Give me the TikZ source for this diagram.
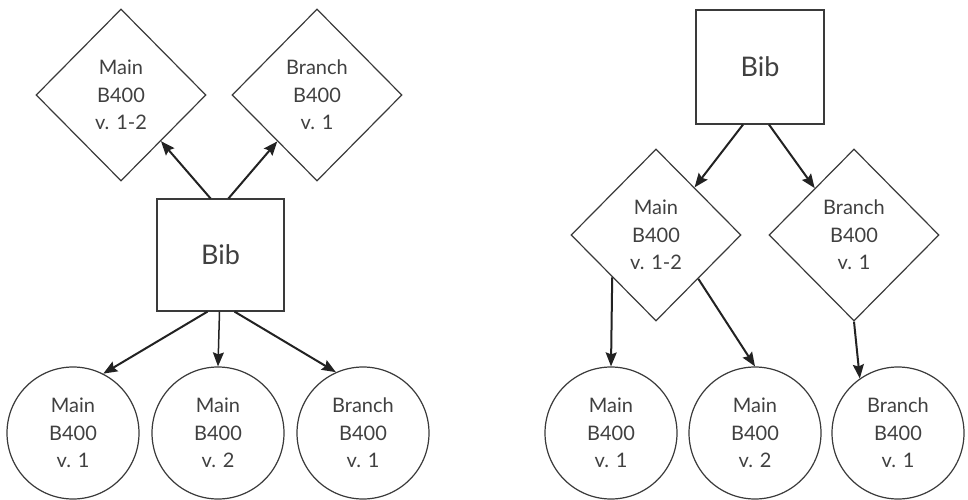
\documentclass[tikz,border=0pt]{standalone}
\usepackage{fontspec}
\setmainfont{Lato}
\usetikzlibrary{shapes.geometric,arrows.meta}
\definecolor{linec}{HTML}{3A3A3A}
\definecolor{arrc}{HTML}{222222}
\definecolor{txtc}{HTML}{404040}
\begin{document}
\begin{tikzpicture}[x=1pt,y=-1pt,
  lbl/.style={align=center,text=txtc,font=\fontsize{20}{27.5}\selectfont,inner sep=0pt},
  dia/.style={lbl,draw=linec,line width=1.2pt,shape=diamond,minimum width=170pt,minimum height=172pt},
  circ/.style={lbl,draw=linec,line width=1.2pt,shape=circle,minimum size=132pt},
  bibbox/.style={draw=linec,line width=1.2pt,rectangle,inner sep=0pt,text=txtc,font=\fontsize{27}{30}\selectfont},
  conn/.style={draw=arrc,line width=2pt,-{Stealth[length=14pt,width=11pt,inset=2pt]}}
]
\useasboundingbox (0,0) rectangle (968,500);
% Left diagram
\node[dia] (ld1) at (121,95) {Main\\B400\\v. 1-2};
\node[dia] (ld2) at (317,95) {Branch\\B400\\v. 1};
\node[bibbox,minimum width=127pt,minimum height=112pt] (lbib) at (220.5,255) {Bib};
\node[circ] (lc1) at (73,433) {Main\\B400\\v. 1};
\node[circ] (lc2) at (218,433) {Main\\B400\\v. 2};
\node[circ] (lc3) at (363,433) {Branch\\B400\\v. 1};
\draw[conn] ([xshift=-10pt]lbib.north) -- (ld1);
\draw[conn] ([xshift=8pt]lbib.north) -- (ld2);
\draw[conn] ([xshift=-13pt]lbib.south) -- (lc1.63);
\draw[conn,line width=1.5pt] ([xshift=-1pt]lbib.south) -- (lc2.north);
\draw[conn] ([xshift=14pt]lbib.south) -- (lc3.114);
% Right diagram
\node[bibbox,minimum width=128pt,minimum height=114pt] (rbib) at (760,67) {Bib};
\node[dia] (rd1) at (656,235) {Main\\B400\\v. 1-2};
\node[dia] (rd2) at (854,235) {Branch\\B400\\v. 1};
\node[circ] (rc1) at (611,433) {Main\\B400\\v. 1};
\node[circ] (rc2) at (755,433) {Main\\B400\\v. 2};
\node[circ] (rc3) at (898,433) {Branch\\B400\\v. 1};
\draw[conn] ([xshift=-17pt]rbib.south) -- (rd1.51);
\draw[conn] ([xshift=9pt]rbib.south) -- (rd2.130);
\draw[conn] (rd1.224) -- (rc1.north);
\draw[conn] (rd1.-46) -- (rc2.north);
\draw[conn] (rd2.south) -- (rc3.125);
\end{tikzpicture}
\end{document}
